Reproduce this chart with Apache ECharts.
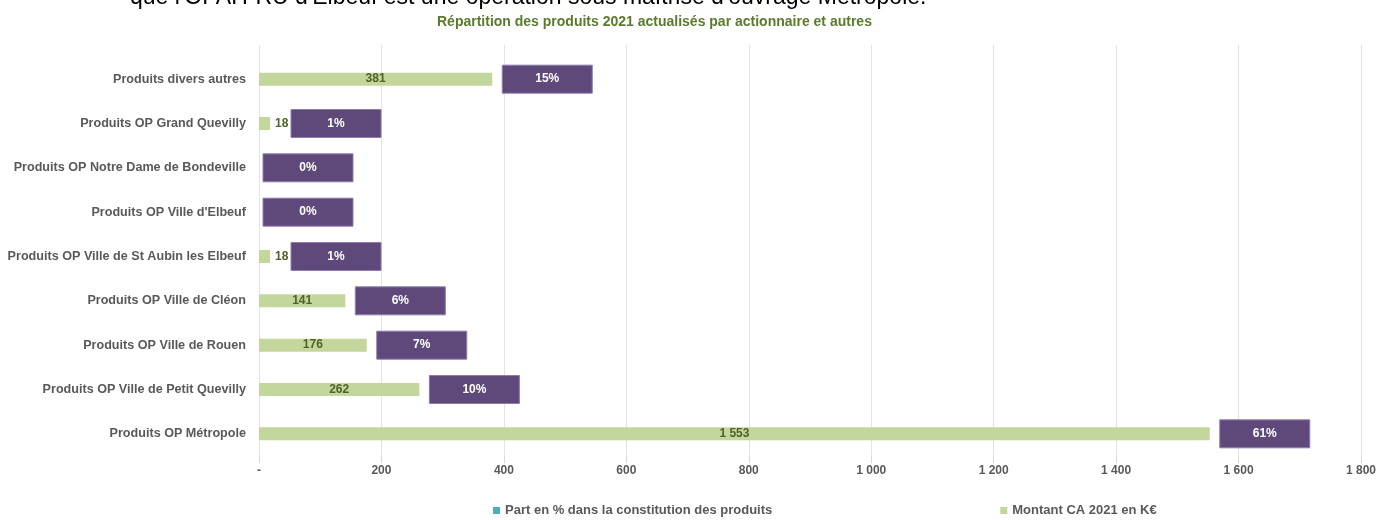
<!DOCTYPE html>
<html>
<head>
<meta charset="utf-8">
<script src="https://cdn.jsdelivr.net/npm/echarts@6/dist/echarts.min.js"></script>
<style>
  html, body { margin: 0; padding: 0; background: #fff; }
  #chart { width: 1382px; height: 520px; }
</style>
</head>
<body>
<div id="chart"></div>
<script>
// categories listed bottom to top (category axis starts at bottom)
const categories = [
    'Produits OP Métropole',
    'Produits OP Ville de Petit Quevilly',
    'Produits OP Ville de Rouen',
    'Produits OP Ville de Cléon',
    'Produits OP Ville de St Aubin les Elbeuf',
    "Produits OP Ville d'Elbeuf",
    'Produits OP Notre Dame de Bondeville',
    'Produits OP Grand Quevilly',
    'Produits divers autres'
];
const montants = [1553, 262, 176, 141, 18, 0, 0, 18, 381];
const parts = [61, 10, 7, 6, 1, 0, 0, 1, 15];

const fontNarrow = '"Liberation Sans Narrow", "Liberation Sans", Arial, sans-serif';

function fmtNum(v) {
    if (v === 0) return '-';
    return String(v).replace(/\B(?=(\d{3})+(?!\d))/g, ' ');
}

const chart = echarts.init(document.getElementById('chart'));

chart.setOption({
    animation: false,
    textStyle: { fontFamily: fontNarrow },
    graphic: [{
        type: 'text',
        left: 130,
        top: -14,
        style: {
            text: "que l'OPAH-RU d'Elbeuf est une opération sous maîtrise d'ouvrage Métropole.",
            fill: '#000',
            font: '23px "Liberation Sans", Arial, sans-serif'
        }
    }],
    title: {
        text: 'Répartition des produits 2021 actualisés par actionnaire et autres',
        left: 432,
        top: 10,
        textStyle: { color: '#5b7a2e', fontSize: 14, fontWeight: 'bold', fontFamily: fontNarrow }
    },
    legend: {
        left: 488,
        top: 499,
        itemGap: 228,
        itemWidth: 7,
        itemHeight: 7,
        icon: 'rect',
        textStyle: { color: '#595959', fontSize: 13, fontWeight: 'bold', fontFamily: fontNarrow },
        data: ['Part en % dans la constitution des produits', 'Montant CA 2021 en K€']
    },
    grid: [
        { left: 259, right: 21, top: 57, bottom: 64, containLabel: false, outerBoundsMode: 'none' },
        // taller twin grid only for the vertical gridlines
        { left: 259, right: 21, top: 45, bottom: 64, containLabel: false, outerBoundsMode: 'none' }
    ],
    xAxis: [
        {
            type: 'value',
            gridIndex: 0,
            min: 0,
            max: 1800,
            interval: 200,
            axisLine: { show: false },
            axisTick: { show: true, length: 7, lineStyle: { color: '#d9d9d9' } },
            splitLine: { show: false },
            axisLabel: {
                margin: 9,
                color: '#595959',
                fontSize: 12,
                fontWeight: 'bold',
                formatter: fmtNum
            }
        },
        {
            type: 'value',
            gridIndex: 1,
            min: 0,
            max: 1800,
            interval: 200,
            axisLine: { show: false },
            axisTick: { show: false },
            axisLabel: { show: false },
            splitLine: { show: true, lineStyle: { color: '#e3e3e3', width: 1 } }
        }
    ],
    yAxis: [
        {
            type: 'category',
            gridIndex: 0,
            data: categories,
            axisLine: { show: false },
            axisTick: { show: false },
            axisLabel: {
                margin: 13,
                color: '#595959',
                fontSize: 12.6,
                fontWeight: 'bold'
            }
        },
        {
            type: 'category',
            gridIndex: 1,
            data: categories,
            show: false
        }
    ],
    series: [
        {
            name: 'Montant CA 2021 en K€',
            type: 'bar',
            barWidth: 13,
            itemStyle: { color: '#c3d69b' },
            data: montants.map(function (v) {
                const small = v < 60;
                return {
                    value: v,
                    label: {
                        show: v > 0,
                        position: small ? 'right' : 'inside',
                        distance: 5,
                        color: '#4f6228',
                        fontSize: 12,
                        fontWeight: 'bold',
                        formatter: fmtNum(v)
                    }
                };
            }),
            z: 2
        },
        {
            name: 'Part en % dans la constitution des produits',
            type: 'custom',
            itemStyle: { color: '#4bacc6' },
            encode: { x: 0, y: 1 },
            data: montants.map(function (v, i) { return [v, i, parts[i]]; }),
            renderItem: function (params, api) {
                const v = api.value(0);
                const p = api.coord([v, api.value(1)]);
                let gap = 10;
                if (v === 0) gap = 4;
                else if (v < 60) gap = 21;
                const w = 90;
                const h = 28;
                return {
                    type: 'rect',
                    shape: { x: p[0] + gap, y: p[1] - h / 2, width: w, height: h },
                    style: {
                        fill: '#5f497a',
                        stroke: '#8e7cb0',
                        lineWidth: 1
                    },
                    textContent: {
                        style: {
                            text: api.value(2) + '%',
                            fill: '#fff',
                            font: 'bold 12px ' + fontNarrow
                        }
                    },
                    textConfig: { position: 'inside' }
                };
            },
            z: 3
        }
    ]
});
</script>
</body>
</html>
